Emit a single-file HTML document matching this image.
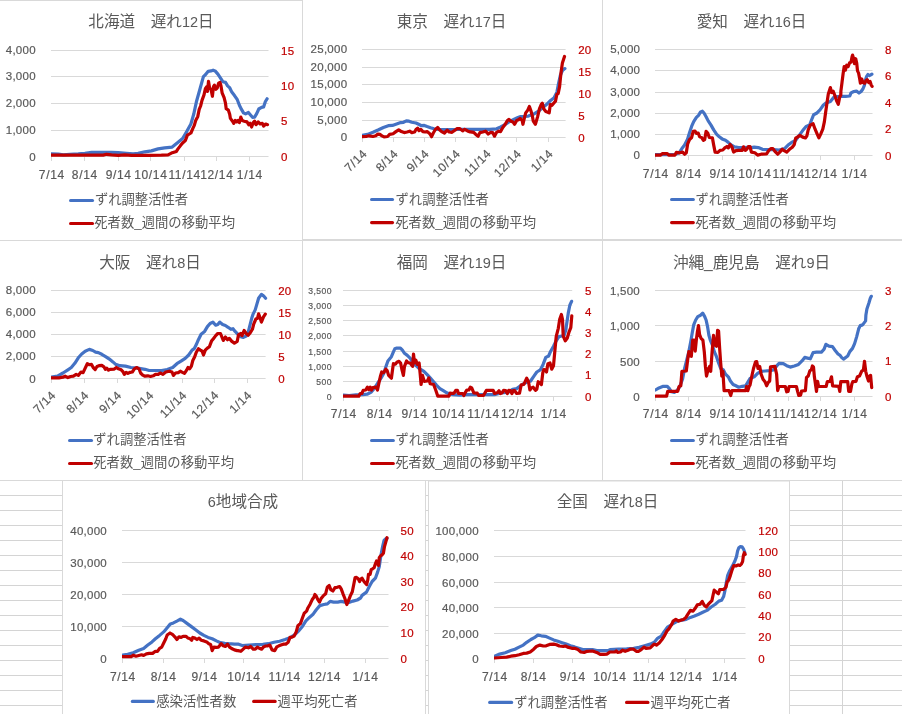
<!DOCTYPE html>
<html><head><meta charset="utf-8"><title>charts</title>
<style>
html,body{margin:0;padding:0;background:#fff;}
body{width:902px;height:714px;overflow:hidden;position:relative;font-family:"Liberation Sans",sans-serif;}
svg{position:absolute;left:0;top:0;display:block;will-change:transform;}
svg text{font-family:"Liberation Sans","Noto Sans CJK JP",sans-serif;}
</style></head><body>
<svg width="902" height="714" viewBox="0 0 902 714">
<path d="M0.00 480.50H902.00" stroke="#D4D4D4" stroke-width="1"/>
<path d="M0.00 495.50H902.00" stroke="#D4D4D4" stroke-width="1"/>
<path d="M0.00 510.50H902.00" stroke="#D4D4D4" stroke-width="1"/>
<path d="M0.00 525.50H902.00" stroke="#D4D4D4" stroke-width="1"/>
<path d="M0.00 540.50H902.00" stroke="#D4D4D4" stroke-width="1"/>
<path d="M0.00 555.50H902.00" stroke="#D4D4D4" stroke-width="1"/>
<path d="M0.00 570.50H902.00" stroke="#D4D4D4" stroke-width="1"/>
<path d="M0.00 585.50H902.00" stroke="#D4D4D4" stroke-width="1"/>
<path d="M0.00 600.50H902.00" stroke="#D4D4D4" stroke-width="1"/>
<path d="M0.00 615.50H902.00" stroke="#D4D4D4" stroke-width="1"/>
<path d="M0.00 630.50H902.00" stroke="#D4D4D4" stroke-width="1"/>
<path d="M0.00 645.50H902.00" stroke="#D4D4D4" stroke-width="1"/>
<path d="M0.00 660.50H902.00" stroke="#D4D4D4" stroke-width="1"/>
<path d="M0.00 675.50H902.00" stroke="#D4D4D4" stroke-width="1"/>
<path d="M0.00 690.50H902.00" stroke="#D4D4D4" stroke-width="1"/>
<path d="M0.00 705.50H902.00" stroke="#D4D4D4" stroke-width="1"/>
<path d="M842.50 480.00V714.00" stroke="#D4D4D4" stroke-width="1"/>
<rect x="0" y="0" width="902" height="480.5" fill="#fff"/>
<rect x="62" y="480" width="364" height="234" fill="#fff"/>
<rect x="428" y="480" width="362" height="234" fill="#fff"/>
<path d="M0.00 0.50H302.50" stroke="#D9D9D9" stroke-width="1"/>
<path d="M302.50 0.00V480.00" stroke="#D9D9D9" stroke-width="1"/>
<path d="M602.50 0.00V480.00" stroke="#D9D9D9" stroke-width="1"/>
<path d="M0.00 240.50H302.00" stroke="#D9D9D9" stroke-width="1"/>
<path d="M303.00 240.00H902.00" stroke="#D9D9D9" stroke-width="2"/>
<path d="M0.00 480.50H902.00" stroke="#D9D9D9" stroke-width="1"/>
<path d="M428.00 481.00H790.00" stroke="#D9D9D9" stroke-width="1"/>
<path d="M62.50 480.00V714.00" stroke="#D9D9D9" stroke-width="1"/>
<path d="M425.50 480.00V714.00" stroke="#D9D9D9" stroke-width="1"/>
<path d="M428.50 480.00V714.00" stroke="#D9D9D9" stroke-width="1"/>
<path d="M789.50 480.00V714.00" stroke="#D9D9D9" stroke-width="1"/>
<path d="M51.00 50.50H268.50" stroke="#D9D9D9" stroke-width="1"/>
<path d="M51.00 76.50H268.50" stroke="#D9D9D9" stroke-width="1"/>
<path d="M51.00 103.50H268.50" stroke="#D9D9D9" stroke-width="1"/>
<path d="M51.00 130.50H268.50" stroke="#D9D9D9" stroke-width="1"/>
<path d="M51.00 156.50H268.50" stroke="#D9D9D9" stroke-width="1"/>
<path d="M51.50 156.00V161.00" stroke="#D9D9D9" stroke-width="1"/>
<path d="M84.50 156.00V161.00" stroke="#D9D9D9" stroke-width="1"/>
<path d="M118.50 156.00V161.00" stroke="#D9D9D9" stroke-width="1"/>
<path d="M150.50 156.00V161.00" stroke="#D9D9D9" stroke-width="1"/>
<path d="M184.50 156.00V161.00" stroke="#D9D9D9" stroke-width="1"/>
<path d="M216.50 156.00V161.00" stroke="#D9D9D9" stroke-width="1"/>
<path d="M249.50 156.00V161.00" stroke="#D9D9D9" stroke-width="1"/>
<text x="35.80" y="53.72" font-size="11.5" text-anchor="end" fill="#595959" stroke="#595959" stroke-width="0.2" letter-spacing="0.25">4,000</text>
<text x="35.80" y="80.42" font-size="11.5" text-anchor="end" fill="#595959" stroke="#595959" stroke-width="0.2" letter-spacing="0.25">3,000</text>
<text x="35.80" y="107.22" font-size="11.5" text-anchor="end" fill="#595959" stroke="#595959" stroke-width="0.2" letter-spacing="0.25">2,000</text>
<text x="35.80" y="133.92" font-size="11.5" text-anchor="end" fill="#595959" stroke="#595959" stroke-width="0.2" letter-spacing="0.25">1,000</text>
<text x="35.80" y="160.82" font-size="11.5" text-anchor="end" fill="#595959" stroke="#595959" stroke-width="0.2" letter-spacing="0.25">0</text>
<text x="281.00" y="54.62" font-size="11.5" text-anchor="start" fill="#C00000" stroke="#C00000" stroke-width="0.2" letter-spacing="0.25">15</text>
<text x="281.00" y="89.95" font-size="11.5" text-anchor="start" fill="#C00000" stroke="#C00000" stroke-width="0.2" letter-spacing="0.25">10</text>
<text x="281.00" y="125.28" font-size="11.5" text-anchor="start" fill="#C00000" stroke="#C00000" stroke-width="0.2" letter-spacing="0.25">5</text>
<text x="281.00" y="160.62" font-size="11.5" text-anchor="start" fill="#C00000" stroke="#C00000" stroke-width="0.2" letter-spacing="0.25">0</text>
<text x="51.83" y="178.60" font-size="12" text-anchor="middle" fill="#595959" stroke="#595959" stroke-width="0.2" letter-spacing="0.65">7/14</text>
<text x="84.83" y="178.60" font-size="12" text-anchor="middle" fill="#595959" stroke="#595959" stroke-width="0.2" letter-spacing="0.65">8/14</text>
<text x="118.73" y="178.60" font-size="12" text-anchor="middle" fill="#595959" stroke="#595959" stroke-width="0.2" letter-spacing="0.65">9/14</text>
<text x="150.82" y="178.60" font-size="12" text-anchor="middle" fill="#595959" stroke="#595959" stroke-width="0.2" letter-spacing="0.65">10/14</text>
<text x="184.62" y="178.60" font-size="12" text-anchor="middle" fill="#595959" stroke="#595959" stroke-width="0.2" letter-spacing="0.65">11/14</text>
<text x="216.82" y="178.60" font-size="12" text-anchor="middle" fill="#595959" stroke="#595959" stroke-width="0.2" letter-spacing="0.65">12/14</text>
<text x="249.82" y="178.60" font-size="12" text-anchor="middle" fill="#595959" stroke="#595959" stroke-width="0.2" letter-spacing="0.65">1/14</text>
<clipPath id="cp1"><rect x="51" y="20.5" width="237.5" height="146"/></clipPath><g clip-path="url(#cp1)">
<path d="M51.5 153.9L58.3 154.1L63.3 154.8L69.9 154.4L78.3 153.9L84.9 153.3L91.6 152.4L101.5 152.4L111.5 152.3L118.2 152.6L126.5 153.3L133.1 153.9L138.1 153.4L144.8 151.8L151.4 150.9L158.1 148.9L164.7 147.8L172.2 147.1L178.4 142.0L182.6 138.5L186.7 131.6L190.9 124.0L193.7 114.3L196.4 101.8L199.9 89.3L203.4 76.6L205.4 74.8L208.2 71.3L211.0 70.9L213.1 70.2L215.1 70.9L217.9 74.1L220.7 78.3L222.8 81.7L225.5 82.4L227.6 85.9L229.7 87.7L231.8 92.1L234.5 95.6L237.3 99.7L239.4 105.3L241.5 109.4L243.5 112.9L245.6 113.9L248.4 112.5L250.5 115.0L252.5 117.3L254.6 117.1L256.7 113.6L258.8 109.0L261.6 107.4L263.6 106.9L265.3 101.8L267.1 98.8" fill="none" stroke="#4472C4" stroke-width="3.2" stroke-linejoin="round" stroke-linecap="round"/>
<path d="M51.5 155.1L103.2 155.1L106.5 154.3L111.5 154.8L118.2 155.3L124.8 154.9L131.5 155.3L148.1 155.3L161.4 155.1L168.1 154.8L171.4 153.1L176.4 151.4L178.0 148.9L180.5 145.6L182.6 143.0L185.3 140.6L187.4 135.1L190.9 133.0L193.0 128.1L194.3 125.4L195.7 120.5L197.8 116.4L199.2 109.4L200.6 106.0L202.0 100.4L204.0 94.9L205.4 88.7L206.8 86.6L207.5 91.4L208.5 81.3L209.6 88.0L211.0 89.3L212.4 96.3L213.5 86.6L214.4 85.2L215.8 89.3L217.2 88.0L218.6 83.1L220.0 82.4L221.0 85.9L222.1 92.8L224.1 97.7L225.5 103.2L226.2 108.7L228.3 110.1L229.7 114.3L230.4 118.4L232.5 121.2L233.8 123.3L235.2 120.5L236.6 121.9L238.0 120.5L239.4 122.6L240.8 117.1L242.2 120.5L244.2 121.2L247.0 121.9L248.7 124.7L250.1 123.3L251.6 127.0L253.2 122.6L254.6 121.2L256.0 124.7L258.1 121.9L260.2 124.0L262.3 123.3L263.6 126.1L265.7 124.0L267.5 124.7" fill="none" stroke="#C00000" stroke-width="3.2" stroke-linejoin="round" stroke-linecap="round"/>
</g>
<g fill="#595959"><text x="88.34" y="27.30" font-size="15.6">北海道</text><text x="150.74" y="27.30" font-size="15.6">遅れ</text><text x="181.94" y="27.30" font-size="14.50">1</text><text x="190.00" y="27.30" font-size="14.50">2</text><text x="198.06" y="27.30" font-size="15.6">日</text></g>
<path d="M70.55 200.45H92.55" stroke="#4472C4" stroke-width="3.1" stroke-linecap="round"/>
<g fill="#595959"><text x="94.90" y="204.00" font-size="13.33">ずれ調整活性者</text></g>
<path d="M70.55 223.50H92.55" stroke="#C00000" stroke-width="3.1" stroke-linecap="round"/>
<g fill="#595959"><text x="94.30" y="227.00" font-size="13.33">死者数_週間の移動平均</text></g>
<path d="M362.00 49.50H565.60" stroke="#D9D9D9" stroke-width="1"/>
<path d="M362.00 67.50H565.60" stroke="#D9D9D9" stroke-width="1"/>
<path d="M362.00 84.50H565.60" stroke="#D9D9D9" stroke-width="1"/>
<path d="M362.00 102.50H565.60" stroke="#D9D9D9" stroke-width="1"/>
<path d="M362.00 120.50H565.60" stroke="#D9D9D9" stroke-width="1"/>
<path d="M362.00 137.50H565.60" stroke="#D9D9D9" stroke-width="1"/>
<path d="M362.50 137.00V142.00" stroke="#D9D9D9" stroke-width="1"/>
<path d="M393.50 137.00V142.00" stroke="#D9D9D9" stroke-width="1"/>
<path d="M424.50 137.00V142.00" stroke="#D9D9D9" stroke-width="1"/>
<path d="M455.50 137.00V142.00" stroke="#D9D9D9" stroke-width="1"/>
<path d="M486.50 137.00V142.00" stroke="#D9D9D9" stroke-width="1"/>
<path d="M516.50 137.00V142.00" stroke="#D9D9D9" stroke-width="1"/>
<path d="M548.50 137.00V142.00" stroke="#D9D9D9" stroke-width="1"/>
<text x="347.30" y="53.22" font-size="11.5" text-anchor="end" fill="#595959" stroke="#595959" stroke-width="0.2" letter-spacing="0.25">25,000</text>
<text x="347.30" y="71.22" font-size="11.5" text-anchor="end" fill="#595959" stroke="#595959" stroke-width="0.2" letter-spacing="0.25">20,000</text>
<text x="347.30" y="88.22" font-size="11.5" text-anchor="end" fill="#595959" stroke="#595959" stroke-width="0.2" letter-spacing="0.25">15,000</text>
<text x="347.30" y="106.22" font-size="11.5" text-anchor="end" fill="#595959" stroke="#595959" stroke-width="0.2" letter-spacing="0.25">10,000</text>
<text x="347.30" y="124.22" font-size="11.5" text-anchor="end" fill="#595959" stroke="#595959" stroke-width="0.2" letter-spacing="0.25">5,000</text>
<text x="347.30" y="141.22" font-size="11.5" text-anchor="end" fill="#595959" stroke="#595959" stroke-width="0.2" letter-spacing="0.25">0</text>
<text x="578.20" y="53.62" font-size="11.5" text-anchor="start" fill="#C00000" stroke="#C00000" stroke-width="0.2" letter-spacing="0.25">20</text>
<text x="578.20" y="75.62" font-size="11.5" text-anchor="start" fill="#C00000" stroke="#C00000" stroke-width="0.2" letter-spacing="0.25">15</text>
<text x="578.20" y="97.62" font-size="11.5" text-anchor="start" fill="#C00000" stroke="#C00000" stroke-width="0.2" letter-spacing="0.25">10</text>
<text x="578.20" y="119.62" font-size="11.5" text-anchor="start" fill="#C00000" stroke="#C00000" stroke-width="0.2" letter-spacing="0.25">5</text>
<text x="578.20" y="141.62" font-size="11.5" text-anchor="start" fill="#C00000" stroke="#C00000" stroke-width="0.2" letter-spacing="0.25">0</text>
<text x="367.90" y="154.20" font-size="12" text-anchor="end" fill="#595959" stroke="#595959" stroke-width="0.2" letter-spacing="0.65" transform="rotate(-45 367.90 154.20)">7/14</text>
<text x="399.00" y="154.20" font-size="12" text-anchor="end" fill="#595959" stroke="#595959" stroke-width="0.2" letter-spacing="0.65" transform="rotate(-45 399.00 154.20)">8/14</text>
<text x="429.90" y="154.20" font-size="12" text-anchor="end" fill="#595959" stroke="#595959" stroke-width="0.2" letter-spacing="0.65" transform="rotate(-45 429.90 154.20)">9/14</text>
<text x="461.10" y="154.20" font-size="12" text-anchor="end" fill="#595959" stroke="#595959" stroke-width="0.2" letter-spacing="0.65" transform="rotate(-45 461.10 154.20)">10/14</text>
<text x="492.00" y="154.20" font-size="12" text-anchor="end" fill="#595959" stroke="#595959" stroke-width="0.2" letter-spacing="0.65" transform="rotate(-45 492.00 154.20)">11/14</text>
<text x="522.20" y="154.20" font-size="12" text-anchor="end" fill="#595959" stroke="#595959" stroke-width="0.2" letter-spacing="0.65" transform="rotate(-45 522.20 154.20)">12/14</text>
<text x="554.00" y="154.20" font-size="12" text-anchor="end" fill="#595959" stroke="#595959" stroke-width="0.2" letter-spacing="0.65" transform="rotate(-45 554.00 154.20)">1/14</text>
<clipPath id="cp2"><rect x="362" y="19.5" width="223.6" height="128"/></clipPath><g clip-path="url(#cp2)">
<path d="M362.3 135.4L367.5 134.4L373.0 132.3L378.6 129.8L383.4 127.5L388.3 125.7L392.4 125.4L396.6 124.0L400.7 122.6L403.5 122.3L406.3 120.9L409.0 121.2L411.8 122.2L416.0 123.0L418.7 124.3L421.5 125.7L424.3 125.4L427.1 126.5L430.5 127.7L434.0 128.8L438.1 129.3L445.1 129.5L452.0 129.5L455.0 129.5L463.3 129.3L475.8 129.3L489.6 129.3L496.6 128.8L500.7 127.0L504.9 124.7L509.0 121.9L513.2 119.8L517.4 117.8L520.1 116.6L524.3 116.4L528.4 116.1L534.0 113.9L538.1 111.5L542.3 108.1L546.5 104.6L550.6 100.4L554.1 97.7L556.9 92.1L558.2 85.2L560.3 75.5L562.4 70.6L564.9 68.6" fill="none" stroke="#4472C4" stroke-width="3.2" stroke-linejoin="round" stroke-linecap="round"/>
<path d="M362.3 136.7L366.1 136.5L368.9 135.8L373.0 136.5L375.8 135.8L377.9 134.1L379.9 134.4L382.0 135.8L384.1 136.9L387.6 136.5L389.6 134.4L393.1 133.7L395.9 131.6L398.7 129.8L401.4 131.6L404.2 132.6L407.0 132.0L409.7 131.2L411.8 132.6L414.6 132.0L416.0 129.5L417.6 128.1L419.0 130.6L420.8 129.3L422.9 131.6L425.0 132.0L427.1 131.6L429.8 133.7L431.6 136.7L433.3 133.0L435.4 129.5L437.7 127.5L439.5 129.8L441.6 131.6L444.4 133.0L447.2 130.2L449.2 132.0L452.0 132.3L454.8 130.2L455.0 130.2L457.1 128.6L459.9 128.6L462.6 130.9L464.7 129.3L467.5 130.9L470.2 131.9L473.7 132.3L475.8 134.4L478.1 136.2L479.9 132.6L482.7 132.0L485.5 131.2L488.3 134.0L490.8 132.3L492.7 132.6L494.5 136.2L496.6 132.3L498.7 131.2L500.5 131.6L502.8 127.5L504.9 124.7L507.4 120.5L509.0 119.4L511.1 121.2L512.9 121.9L514.6 124.3L516.7 120.5L518.5 119.8L520.1 118.4L522.2 120.5L522.9 124.3L524.3 118.4L525.7 112.9L527.8 110.1L529.4 106.4L530.9 110.8L532.3 115.7L533.3 121.2L535.4 124.3L537.5 117.1L539.5 108.7L541.2 104.6L542.3 103.2L543.7 108.7L545.8 111.5L547.8 112.2L549.2 112.9L550.3 104.6L552.0 105.3L553.7 103.2L555.5 101.1L556.9 94.2L558.2 93.5L559.6 86.6L561.0 72.7L562.4 63.0L564.5 56.4" fill="none" stroke="#C00000" stroke-width="3.2" stroke-linejoin="round" stroke-linecap="round"/>
</g>
<g fill="#595959"><text x="396.64" y="27.30" font-size="15.6">東京</text><text x="443.44" y="27.30" font-size="15.6">遅れ</text><text x="474.64" y="27.30" font-size="14.50">1</text><text x="482.70" y="27.30" font-size="14.50">7</text><text x="490.76" y="27.30" font-size="15.6">日</text></g>
<path d="M371.55 199.50H392.55" stroke="#4472C4" stroke-width="3.1" stroke-linecap="round"/>
<g fill="#595959"><text x="395.50" y="204.00" font-size="13.33">ずれ調整活性者</text></g>
<path d="M371.55 222.60H392.55" stroke="#C00000" stroke-width="3.1" stroke-linecap="round"/>
<g fill="#595959"><text x="395.30" y="227.00" font-size="13.33">死者数_週間の移動平均</text></g>
<path d="M655.00 49.50H872.50" stroke="#D9D9D9" stroke-width="1"/>
<path d="M655.00 70.50H872.50" stroke="#D9D9D9" stroke-width="1"/>
<path d="M655.00 92.50H872.50" stroke="#D9D9D9" stroke-width="1"/>
<path d="M655.00 113.50H872.50" stroke="#D9D9D9" stroke-width="1"/>
<path d="M655.00 134.50H872.50" stroke="#D9D9D9" stroke-width="1"/>
<path d="M655.00 155.50H872.50" stroke="#D9D9D9" stroke-width="1"/>
<path d="M655.50 155.00V160.00" stroke="#D9D9D9" stroke-width="1"/>
<path d="M688.50 155.00V160.00" stroke="#D9D9D9" stroke-width="1"/>
<path d="M722.50 155.00V160.00" stroke="#D9D9D9" stroke-width="1"/>
<path d="M754.50 155.00V160.00" stroke="#D9D9D9" stroke-width="1"/>
<path d="M788.50 155.00V160.00" stroke="#D9D9D9" stroke-width="1"/>
<path d="M820.50 155.00V160.00" stroke="#D9D9D9" stroke-width="1"/>
<path d="M854.50 155.00V160.00" stroke="#D9D9D9" stroke-width="1"/>
<text x="640.20" y="53.22" font-size="11.5" text-anchor="end" fill="#595959" stroke="#595959" stroke-width="0.2" letter-spacing="0.25">5,000</text>
<text x="640.20" y="74.22" font-size="11.5" text-anchor="end" fill="#595959" stroke="#595959" stroke-width="0.2" letter-spacing="0.25">4,000</text>
<text x="640.20" y="96.22" font-size="11.5" text-anchor="end" fill="#595959" stroke="#595959" stroke-width="0.2" letter-spacing="0.25">3,000</text>
<text x="640.20" y="117.22" font-size="11.5" text-anchor="end" fill="#595959" stroke="#595959" stroke-width="0.2" letter-spacing="0.25">2,000</text>
<text x="640.20" y="138.22" font-size="11.5" text-anchor="end" fill="#595959" stroke="#595959" stroke-width="0.2" letter-spacing="0.25">1,000</text>
<text x="640.20" y="159.22" font-size="11.5" text-anchor="end" fill="#595959" stroke="#595959" stroke-width="0.2" letter-spacing="0.25">0</text>
<text x="885.00" y="53.62" font-size="11.5" text-anchor="start" fill="#C00000" stroke="#C00000" stroke-width="0.2" letter-spacing="0.25">8</text>
<text x="885.00" y="80.12" font-size="11.5" text-anchor="start" fill="#C00000" stroke="#C00000" stroke-width="0.2" letter-spacing="0.25">6</text>
<text x="885.00" y="106.62" font-size="11.5" text-anchor="start" fill="#C00000" stroke="#C00000" stroke-width="0.2" letter-spacing="0.25">4</text>
<text x="885.00" y="133.12" font-size="11.5" text-anchor="start" fill="#C00000" stroke="#C00000" stroke-width="0.2" letter-spacing="0.25">2</text>
<text x="885.00" y="159.62" font-size="11.5" text-anchor="start" fill="#C00000" stroke="#C00000" stroke-width="0.2" letter-spacing="0.25">0</text>
<text x="655.83" y="178.00" font-size="12" text-anchor="middle" fill="#595959" stroke="#595959" stroke-width="0.2" letter-spacing="0.65">7/14</text>
<text x="688.83" y="178.00" font-size="12" text-anchor="middle" fill="#595959" stroke="#595959" stroke-width="0.2" letter-spacing="0.65">8/14</text>
<text x="722.53" y="178.00" font-size="12" text-anchor="middle" fill="#595959" stroke="#595959" stroke-width="0.2" letter-spacing="0.65">9/14</text>
<text x="754.83" y="178.00" font-size="12" text-anchor="middle" fill="#595959" stroke="#595959" stroke-width="0.2" letter-spacing="0.65">10/14</text>
<text x="788.73" y="178.00" font-size="12" text-anchor="middle" fill="#595959" stroke="#595959" stroke-width="0.2" letter-spacing="0.65">11/14</text>
<text x="820.93" y="178.00" font-size="12" text-anchor="middle" fill="#595959" stroke="#595959" stroke-width="0.2" letter-spacing="0.65">12/14</text>
<text x="854.73" y="178.00" font-size="12" text-anchor="middle" fill="#595959" stroke="#595959" stroke-width="0.2" letter-spacing="0.65">1/14</text>
<clipPath id="cp3"><rect x="655" y="19.5" width="237.5" height="146"/></clipPath><g clip-path="url(#cp3)">
<path d="M655.5 154.6L663.9 154.6L674.9 154.6L679.1 152.8L681.9 148.6L684.6 145.1L687.4 139.6L689.5 132.7L691.6 126.4L693.7 121.6L696.4 117.4L698.5 115.4L700.6 111.9L702.4 111.2L704.0 113.0L706.1 116.7L708.2 120.9L711.0 125.1L713.7 129.9L716.5 134.1L719.3 136.8L722.1 138.9L725.5 140.3L728.3 142.4L731.1 144.9L734.5 146.8L738.7 147.5L744.2 147.5L749.8 147.2L750.0 147.9L754.2 147.2L758.3 147.6L762.5 149.3L768.0 149.7L773.6 149.7L779.1 150.0L784.6 148.6L788.1 145.1L791.6 142.4L795.7 140.3L799.2 135.4L802.7 130.6L806.1 126.4L809.6 125.1L811.7 119.5L813.7 114.7L816.5 113.3L820.0 109.8L823.4 105.0L826.2 102.9L830.4 101.5L833.8 97.3L837.3 96.6L841.5 96.4L845.6 96.4L849.8 96.0L851.0 92.9L853.9 91.5L856.4 91.1L859.0 93.1L861.1 91.5L862.9 89.0L864.4 85.4L865.4 80.3L866.5 76.7L868.0 74.5L869.4 75.6L870.8 74.9L871.9 74.2" fill="none" stroke="#4472C4" stroke-width="3.2" stroke-linejoin="round" stroke-linecap="round"/>
<path d="M655.5 155.1L660.4 155.1L662.5 153.7L667.3 153.7L668.7 155.1L674.9 155.1L676.3 152.4L679.8 152.8L682.6 152.1L684.6 154.2L686.3 152.8L687.7 143.8L689.5 139.6L691.6 137.5L693.2 131.3L695.0 131.0L696.4 133.4L698.2 133.0L699.6 136.8L701.6 137.5L703.4 140.3L704.7 139.6L706.1 131.3L707.9 133.4L709.3 137.5L712.4 137.9L713.7 145.1L715.1 152.1L717.9 152.4L720.0 150.4L722.8 150.0L724.8 147.9L726.9 146.5L728.3 147.9L730.1 144.5L731.8 146.5L733.6 152.1L735.9 150.7L738.7 150.4L742.2 150.4L743.5 146.8L745.3 150.4L747.0 149.0L748.4 146.5L750.0 146.5L751.4 152.1L754.9 152.8L757.6 155.1L761.1 154.2L766.6 153.9L768.7 150.7L770.8 148.6L772.9 148.6L774.9 151.4L777.7 154.2L779.8 152.1L782.2 149.3L784.0 150.7L786.7 152.1L789.5 149.3L792.3 147.2L794.3 144.5L795.7 138.2L797.8 136.8L799.9 135.4L802.7 137.1L805.4 137.9L806.8 136.1L808.2 129.9L810.3 125.1L813.1 123.7L815.1 129.2L817.2 134.1L818.9 137.9L820.7 134.1L822.8 129.2L824.4 121.6L825.5 113.3L826.9 103.6L828.3 93.9L830.4 87.6L831.5 92.5L833.1 91.1L834.8 95.3L836.6 100.8L838.3 104.3L839.8 96.6L840.8 95.3L840.9 91.1L842.0 82.5L843.1 73.8L844.2 66.6L845.3 70.2L846.7 65.2L848.1 66.6L849.6 62.7L851.0 62.3L852.1 56.5L852.6 55.1L853.6 58.7L854.5 63.7L855.7 58.7L856.7 63.0L857.5 70.9L858.6 73.1L859.7 78.9L860.4 83.2L861.8 78.9L862.9 82.5L864.7 83.2L865.8 81.0L867.2 79.6L868.7 82.5L870.1 81.4L871.2 85.0L872.1 86.4" fill="none" stroke="#C00000" stroke-width="3.2" stroke-linejoin="round" stroke-linecap="round"/>
</g>
<g fill="#595959"><text x="696.64" y="27.30" font-size="15.6">愛知</text><text x="743.44" y="27.30" font-size="15.6">遅れ</text><text x="774.64" y="27.30" font-size="14.50">1</text><text x="782.70" y="27.30" font-size="14.50">6</text><text x="790.76" y="27.30" font-size="15.6">日</text></g>
<path d="M671.55 199.50H693.35" stroke="#4472C4" stroke-width="3.1" stroke-linecap="round"/>
<g fill="#595959"><text x="695.50" y="204.00" font-size="13.33">ずれ調整活性者</text></g>
<path d="M671.55 222.60H693.35" stroke="#C00000" stroke-width="3.1" stroke-linecap="round"/>
<g fill="#595959"><text x="695.30" y="227.00" font-size="13.33">死者数_週間の移動平均</text></g>
<path d="M51.00 290.50H265.60" stroke="#D9D9D9" stroke-width="1"/>
<path d="M51.00 312.50H265.60" stroke="#D9D9D9" stroke-width="1"/>
<path d="M51.00 334.50H265.60" stroke="#D9D9D9" stroke-width="1"/>
<path d="M51.00 356.50H265.60" stroke="#D9D9D9" stroke-width="1"/>
<path d="M51.00 378.50H265.60" stroke="#D9D9D9" stroke-width="1"/>
<path d="M51.50 378.00V383.00" stroke="#D9D9D9" stroke-width="1"/>
<path d="M84.50 378.00V383.00" stroke="#D9D9D9" stroke-width="1"/>
<path d="M117.50 378.00V383.00" stroke="#D9D9D9" stroke-width="1"/>
<path d="M149.50 378.00V383.00" stroke="#D9D9D9" stroke-width="1"/>
<path d="M182.50 378.00V383.00" stroke="#D9D9D9" stroke-width="1"/>
<path d="M214.50 378.00V383.00" stroke="#D9D9D9" stroke-width="1"/>
<path d="M247.50 378.00V383.00" stroke="#D9D9D9" stroke-width="1"/>
<text x="35.80" y="293.82" font-size="11.5" text-anchor="end" fill="#595959" stroke="#595959" stroke-width="0.2" letter-spacing="0.25">8,000</text>
<text x="35.80" y="316.02" font-size="11.5" text-anchor="end" fill="#595959" stroke="#595959" stroke-width="0.2" letter-spacing="0.25">6,000</text>
<text x="35.80" y="338.22" font-size="11.5" text-anchor="end" fill="#595959" stroke="#595959" stroke-width="0.2" letter-spacing="0.25">4,000</text>
<text x="35.80" y="360.42" font-size="11.5" text-anchor="end" fill="#595959" stroke="#595959" stroke-width="0.2" letter-spacing="0.25">2,000</text>
<text x="35.80" y="382.62" font-size="11.5" text-anchor="end" fill="#595959" stroke="#595959" stroke-width="0.2" letter-spacing="0.25">0</text>
<text x="278.20" y="294.62" font-size="11.5" text-anchor="start" fill="#C00000" stroke="#C00000" stroke-width="0.2" letter-spacing="0.25">20</text>
<text x="278.20" y="316.62" font-size="11.5" text-anchor="start" fill="#C00000" stroke="#C00000" stroke-width="0.2" letter-spacing="0.25">15</text>
<text x="278.20" y="338.62" font-size="11.5" text-anchor="start" fill="#C00000" stroke="#C00000" stroke-width="0.2" letter-spacing="0.25">10</text>
<text x="278.20" y="360.62" font-size="11.5" text-anchor="start" fill="#C00000" stroke="#C00000" stroke-width="0.2" letter-spacing="0.25">5</text>
<text x="278.20" y="382.62" font-size="11.5" text-anchor="start" fill="#C00000" stroke="#C00000" stroke-width="0.2" letter-spacing="0.25">0</text>
<text x="56.60" y="395.70" font-size="12" text-anchor="end" fill="#595959" stroke="#595959" stroke-width="0.2" letter-spacing="0.65" transform="rotate(-45 56.60 395.70)">7/14</text>
<text x="89.70" y="395.70" font-size="12" text-anchor="end" fill="#595959" stroke="#595959" stroke-width="0.2" letter-spacing="0.65" transform="rotate(-45 89.70 395.70)">8/14</text>
<text x="122.40" y="395.70" font-size="12" text-anchor="end" fill="#595959" stroke="#595959" stroke-width="0.2" letter-spacing="0.65" transform="rotate(-45 122.40 395.70)">9/14</text>
<text x="154.70" y="395.70" font-size="12" text-anchor="end" fill="#595959" stroke="#595959" stroke-width="0.2" letter-spacing="0.65" transform="rotate(-45 154.70 395.70)">10/14</text>
<text x="187.60" y="395.70" font-size="12" text-anchor="end" fill="#595959" stroke="#595959" stroke-width="0.2" letter-spacing="0.65" transform="rotate(-45 187.60 395.70)">11/14</text>
<text x="219.80" y="395.70" font-size="12" text-anchor="end" fill="#595959" stroke="#595959" stroke-width="0.2" letter-spacing="0.65" transform="rotate(-45 219.80 395.70)">12/14</text>
<text x="252.70" y="395.70" font-size="12" text-anchor="end" fill="#595959" stroke="#595959" stroke-width="0.2" letter-spacing="0.65" transform="rotate(-45 252.70 395.70)">1/14</text>
<clipPath id="cp4"><rect x="51" y="260.5" width="234.6" height="128"/></clipPath><g clip-path="url(#cp4)">
<path d="M51.4 377.2L57.5 376.2L63.0 373.0L67.9 369.8L71.3 367.5L74.8 363.3L78.3 357.8L81.7 354.0L85.2 351.2L89.3 349.4L92.8 350.5L95.6 352.2L98.4 352.6L101.8 354.3L106.0 356.8L109.4 359.1L112.9 361.9L115.7 364.4L119.8 365.7L125.4 366.1L130.9 367.5L136.5 367.9L142.0 368.8L145.0 369.3L149.2 370.5L156.1 370.5L161.6 370.6L167.2 369.5L172.7 367.5L176.9 363.7L181.0 361.2L185.2 358.4L188.7 355.0L192.1 350.1L194.2 348.7L196.3 344.6L198.4 339.7L201.1 334.2L204.6 331.4L207.4 326.6L210.1 323.5L212.9 322.1L215.7 325.2L217.8 324.5L219.8 322.1L222.6 324.5L225.4 325.5L228.1 327.3L230.9 329.3L233.0 328.7L235.1 331.4L237.8 334.2L240.6 336.6L243.4 337.4L246.2 336.0L248.2 332.1L249.6 326.6L251.7 318.3L253.1 314.1L255.2 309.9L256.6 305.1L258.6 298.2L261.4 294.4L263.5 295.8L265.6 298.2" fill="none" stroke="#4472C4" stroke-width="3.2" stroke-linejoin="round" stroke-linecap="round"/>
<path d="M51.4 377.8L58.9 377.8L63.0 377.2L65.1 376.2L67.9 377.6L70.6 376.5L73.4 376.2L76.2 374.4L78.3 375.4L81.0 372.0L83.1 372.6L85.2 368.1L87.3 363.7L89.3 364.7L91.4 364.3L93.2 367.5L95.2 369.5L97.0 366.5L99.0 365.7L101.8 365.4L103.9 366.8L105.3 369.3L106.7 368.1L108.5 370.2L110.1 369.3L114.3 369.1L116.4 367.5L118.4 368.8L121.2 369.8L122.9 371.6L124.3 374.4L126.1 372.3L127.9 373.4L130.2 372.3L132.3 372.0L134.4 368.8L136.5 367.5L139.0 368.8L140.6 373.0L142.7 375.1L145.0 376.2L147.8 375.8L150.5 376.5L153.3 375.8L155.4 374.4L158.2 374.4L160.2 373.0L163.0 374.4L165.8 372.0L169.3 371.2L172.0 372.0L173.4 375.4L175.5 373.0L178.3 372.6L180.3 371.2L182.4 372.3L184.5 373.4L186.6 370.2L188.0 367.5L189.6 368.8L191.4 366.1L192.8 360.5L194.6 357.1L196.3 352.2L198.4 348.7L200.4 350.1L202.1 351.2L203.5 355.0L205.3 350.1L207.4 348.1L209.4 346.7L211.5 341.1L213.6 338.4L215.7 335.6L217.8 333.5L220.5 333.5L221.9 337.0L223.3 340.4L225.4 337.0L227.5 339.7L229.3 338.4L231.6 341.1L234.4 343.2L237.2 341.5L238.5 334.9L240.6 333.5L242.0 335.6L244.1 330.5L246.2 333.5L248.2 335.2L250.3 332.8L252.4 329.3L253.8 323.8L255.9 319.0L257.5 318.3L258.6 313.8L260.0 317.6L261.4 322.1L263.5 316.9L265.3 314.1" fill="none" stroke="#C00000" stroke-width="3.2" stroke-linejoin="round" stroke-linecap="round"/>
</g>
<g fill="#595959"><text x="99.17" y="267.80" font-size="15.6">大阪</text><text x="145.97" y="267.80" font-size="15.6">遅れ</text><text x="177.17" y="267.80" font-size="14.50">8</text><text x="185.23" y="267.80" font-size="15.6">日</text></g>
<path d="M69.55 440.45H91.55" stroke="#4472C4" stroke-width="3.1" stroke-linecap="round"/>
<g fill="#595959"><text x="93.30" y="444.00" font-size="13.33">ずれ調整活性者</text></g>
<path d="M69.55 463.50H91.55" stroke="#C00000" stroke-width="3.1" stroke-linecap="round"/>
<g fill="#595959"><text x="93.30" y="467.00" font-size="13.33">死者数_週間の移動平均</text></g>
<path d="M343.00 290.50H572.20" stroke="#D9D9D9" stroke-width="1"/>
<path d="M343.00 305.50H572.20" stroke="#D9D9D9" stroke-width="1"/>
<path d="M343.00 320.50H572.20" stroke="#D9D9D9" stroke-width="1"/>
<path d="M343.00 335.50H572.20" stroke="#D9D9D9" stroke-width="1"/>
<path d="M343.00 351.50H572.20" stroke="#D9D9D9" stroke-width="1"/>
<path d="M343.00 366.50H572.20" stroke="#D9D9D9" stroke-width="1"/>
<path d="M343.00 381.50H572.20" stroke="#D9D9D9" stroke-width="1"/>
<path d="M343.00 396.50H572.20" stroke="#D9D9D9" stroke-width="1"/>
<path d="M343.50 396.00V401.00" stroke="#D9D9D9" stroke-width="1"/>
<path d="M379.50 396.00V401.00" stroke="#D9D9D9" stroke-width="1"/>
<path d="M414.50 396.00V401.00" stroke="#D9D9D9" stroke-width="1"/>
<path d="M448.50 396.00V401.00" stroke="#D9D9D9" stroke-width="1"/>
<path d="M483.50 396.00V401.00" stroke="#D9D9D9" stroke-width="1"/>
<path d="M517.50 396.00V401.00" stroke="#D9D9D9" stroke-width="1"/>
<path d="M553.50 396.00V401.00" stroke="#D9D9D9" stroke-width="1"/>
<text x="332.00" y="293.58" font-size="8.6" text-anchor="end" fill="#595959" stroke="#595959" stroke-width="0.2" letter-spacing="0.45">3,500</text>
<text x="332.00" y="308.58" font-size="8.6" text-anchor="end" fill="#595959" stroke="#595959" stroke-width="0.2" letter-spacing="0.45">3,000</text>
<text x="332.00" y="323.58" font-size="8.6" text-anchor="end" fill="#595959" stroke="#595959" stroke-width="0.2" letter-spacing="0.45">2,500</text>
<text x="332.00" y="338.58" font-size="8.6" text-anchor="end" fill="#595959" stroke="#595959" stroke-width="0.2" letter-spacing="0.45">2,000</text>
<text x="332.00" y="354.58" font-size="8.6" text-anchor="end" fill="#595959" stroke="#595959" stroke-width="0.2" letter-spacing="0.45">1,500</text>
<text x="332.00" y="369.58" font-size="8.6" text-anchor="end" fill="#595959" stroke="#595959" stroke-width="0.2" letter-spacing="0.45">1,000</text>
<text x="332.00" y="384.58" font-size="8.6" text-anchor="end" fill="#595959" stroke="#595959" stroke-width="0.2" letter-spacing="0.45">500</text>
<text x="332.00" y="399.58" font-size="8.6" text-anchor="end" fill="#595959" stroke="#595959" stroke-width="0.2" letter-spacing="0.45">0</text>
<text x="585.00" y="294.62" font-size="11.5" text-anchor="start" fill="#C00000" stroke="#C00000" stroke-width="0.2" letter-spacing="0.25">5</text>
<text x="585.00" y="315.82" font-size="11.5" text-anchor="start" fill="#C00000" stroke="#C00000" stroke-width="0.2" letter-spacing="0.25">4</text>
<text x="585.00" y="337.02" font-size="11.5" text-anchor="start" fill="#C00000" stroke="#C00000" stroke-width="0.2" letter-spacing="0.25">3</text>
<text x="585.00" y="358.22" font-size="11.5" text-anchor="start" fill="#C00000" stroke="#C00000" stroke-width="0.2" letter-spacing="0.25">2</text>
<text x="585.00" y="379.42" font-size="11.5" text-anchor="start" fill="#C00000" stroke="#C00000" stroke-width="0.2" letter-spacing="0.25">1</text>
<text x="585.00" y="400.62" font-size="11.5" text-anchor="start" fill="#C00000" stroke="#C00000" stroke-width="0.2" letter-spacing="0.25">0</text>
<text x="343.82" y="418.00" font-size="12" text-anchor="middle" fill="#595959" stroke="#595959" stroke-width="0.2" letter-spacing="0.65">7/14</text>
<text x="379.62" y="418.00" font-size="12" text-anchor="middle" fill="#595959" stroke="#595959" stroke-width="0.2" letter-spacing="0.65">8/14</text>
<text x="414.52" y="418.00" font-size="12" text-anchor="middle" fill="#595959" stroke="#595959" stroke-width="0.2" letter-spacing="0.65">9/14</text>
<text x="448.72" y="418.00" font-size="12" text-anchor="middle" fill="#595959" stroke="#595959" stroke-width="0.2" letter-spacing="0.65">10/14</text>
<text x="483.52" y="418.00" font-size="12" text-anchor="middle" fill="#595959" stroke="#595959" stroke-width="0.2" letter-spacing="0.65">11/14</text>
<text x="517.53" y="418.00" font-size="12" text-anchor="middle" fill="#595959" stroke="#595959" stroke-width="0.2" letter-spacing="0.65">12/14</text>
<text x="553.83" y="418.00" font-size="12" text-anchor="middle" fill="#595959" stroke="#595959" stroke-width="0.2" letter-spacing="0.65">1/14</text>
<clipPath id="cp5"><rect x="343" y="260.5" width="249.2" height="146"/></clipPath><g clip-path="url(#cp5)">
<path d="M343.5 395.1L349.1 395.5L356.0 394.8L362.9 394.6L367.1 394.2L371.3 392.1L374.7 387.9L378.2 382.4L381.0 378.2L383.7 373.4L385.8 367.1L387.9 360.9L391.4 356.7L393.4 351.9L394.8 348.8L396.9 348.0L400.4 348.1L402.4 350.2L404.5 353.3L407.3 355.4L410.1 358.1L412.8 363.0L415.6 365.1L418.4 367.8L421.1 369.6L423.9 371.3L426.7 374.1L430.2 377.9L433.6 381.7L436.4 385.1L439.9 388.6L443.3 390.7L446.8 392.8L450.3 394.2L453.0 394.6L459.9 395.1L466.9 394.6L480.7 394.6L494.6 394.6L501.5 392.8L508.4 392.1L512.6 389.3L516.7 388.6L519.5 386.5L522.3 384.5L526.4 382.4L530.6 381.0L533.4 376.8L536.8 372.0L540.3 369.9L543.1 364.4L545.8 357.4L548.6 356.0L550.7 351.2L553.5 346.3L556.2 340.8L559.0 336.6L561.8 336.0L563.9 336.0L565.9 329.7L566.3 326.2L568.3 312.9L569.9 305.0L571.6 301.3" fill="none" stroke="#4472C4" stroke-width="3.2" stroke-linejoin="round" stroke-linecap="round"/>
<path d="M343.5 396.2L358.8 396.2L360.2 393.5L361.8 393.5L363.2 390.4L365.7 390.0L367.4 387.2L368.8 389.6L370.2 387.2L371.5 390.0L372.9 387.6L376.1 387.2L377.5 390.0L378.9 383.1L380.3 376.8L381.7 372.0L383.7 372.7L385.8 369.2L387.2 370.6L388.6 375.4L391.4 378.2L392.7 368.5L393.4 363.7L395.5 364.1L396.9 362.3L399.0 361.3L400.6 363.0L402.0 369.9L403.4 375.4L404.5 366.4L406.6 360.9L408.0 362.7L410.1 363.0L412.6 366.4L413.5 354.0L414.5 363.0L415.9 360.2L417.3 364.4L419.1 363.0L420.2 374.1L421.1 384.5L422.5 375.4L424.2 381.3L427.4 381.0L428.8 377.9L430.2 383.8L433.6 384.5L435.7 390.0L437.8 396.2L448.9 396.2L450.0 393.2L453.0 393.5L454.4 392.8L455.8 390.4L457.4 390.4L458.5 393.5L462.7 393.5L463.8 395.5L465.5 392.1L466.9 390.0L468.9 390.0L470.3 387.2L471.7 387.9L473.8 392.8L477.3 393.2L478.6 395.5L483.5 395.5L486.3 390.4L493.2 390.4L494.6 393.5L497.3 392.8L499.0 390.7L500.4 393.5L502.2 392.8L503.6 390.4L505.7 390.7L507.3 393.5L508.7 390.4L510.5 390.7L511.9 393.5L513.3 390.7L514.7 390.7L516.5 393.5L519.5 393.2L521.2 384.9L523.7 384.5L525.1 381.7L526.7 378.2L528.5 381.7L529.9 390.0L531.3 387.9L533.1 387.2L535.5 390.4L536.8 389.3L538.2 381.7L540.0 383.1L541.4 384.5L542.8 372.7L543.8 369.6L545.2 369.9L546.5 372.0L547.9 363.7L550.0 363.0L551.7 369.2L553.5 365.7L554.9 350.5L556.2 336.6L558.3 328.3L559.7 319.3L561.4 314.5L562.5 319.3L563.2 336.0L565.3 340.8L567.3 338.0L569.1 331.8L570.8 327.6L571.8 315.9" fill="none" stroke="#C00000" stroke-width="3.2" stroke-linejoin="round" stroke-linecap="round"/>
</g>
<g fill="#595959"><text x="396.64" y="267.80" font-size="15.6">福岡</text><text x="443.44" y="267.80" font-size="15.6">遅れ</text><text x="474.64" y="267.80" font-size="14.50">1</text><text x="482.70" y="267.80" font-size="14.50">9</text><text x="490.76" y="267.80" font-size="15.6">日</text></g>
<path d="M371.55 440.45H393.35" stroke="#4472C4" stroke-width="3.1" stroke-linecap="round"/>
<g fill="#595959"><text x="395.50" y="444.00" font-size="13.33">ずれ調整活性者</text></g>
<path d="M371.55 463.50H393.35" stroke="#C00000" stroke-width="3.1" stroke-linecap="round"/>
<g fill="#595959"><text x="395.30" y="467.00" font-size="13.33">死者数_週間の移動平均</text></g>
<path d="M655.00 290.50H872.50" stroke="#D9D9D9" stroke-width="1"/>
<path d="M655.00 325.50H872.50" stroke="#D9D9D9" stroke-width="1"/>
<path d="M655.00 361.50H872.50" stroke="#D9D9D9" stroke-width="1"/>
<path d="M655.00 396.50H872.50" stroke="#D9D9D9" stroke-width="1"/>
<path d="M655.50 396.00V401.00" stroke="#D9D9D9" stroke-width="1"/>
<path d="M688.50 396.00V401.00" stroke="#D9D9D9" stroke-width="1"/>
<path d="M722.50 396.00V401.00" stroke="#D9D9D9" stroke-width="1"/>
<path d="M754.50 396.00V401.00" stroke="#D9D9D9" stroke-width="1"/>
<path d="M788.50 396.00V401.00" stroke="#D9D9D9" stroke-width="1"/>
<path d="M820.50 396.00V401.00" stroke="#D9D9D9" stroke-width="1"/>
<path d="M854.50 396.00V401.00" stroke="#D9D9D9" stroke-width="1"/>
<text x="640.00" y="294.62" font-size="11.5" text-anchor="end" fill="#595959" stroke="#595959" stroke-width="0.2" letter-spacing="0.25">1,500</text>
<text x="640.00" y="329.62" font-size="11.5" text-anchor="end" fill="#595959" stroke="#595959" stroke-width="0.2" letter-spacing="0.25">1,000</text>
<text x="640.00" y="365.62" font-size="11.5" text-anchor="end" fill="#595959" stroke="#595959" stroke-width="0.2" letter-spacing="0.25">500</text>
<text x="640.00" y="400.62" font-size="11.5" text-anchor="end" fill="#595959" stroke="#595959" stroke-width="0.2" letter-spacing="0.25">0</text>
<text x="885.00" y="294.62" font-size="11.5" text-anchor="start" fill="#C00000" stroke="#C00000" stroke-width="0.2" letter-spacing="0.25">3</text>
<text x="885.00" y="329.95" font-size="11.5" text-anchor="start" fill="#C00000" stroke="#C00000" stroke-width="0.2" letter-spacing="0.25">2</text>
<text x="885.00" y="365.28" font-size="11.5" text-anchor="start" fill="#C00000" stroke="#C00000" stroke-width="0.2" letter-spacing="0.25">1</text>
<text x="885.00" y="400.62" font-size="11.5" text-anchor="start" fill="#C00000" stroke="#C00000" stroke-width="0.2" letter-spacing="0.25">0</text>
<text x="655.83" y="418.00" font-size="12" text-anchor="middle" fill="#595959" stroke="#595959" stroke-width="0.2" letter-spacing="0.65">7/14</text>
<text x="688.83" y="418.00" font-size="12" text-anchor="middle" fill="#595959" stroke="#595959" stroke-width="0.2" letter-spacing="0.65">8/14</text>
<text x="722.53" y="418.00" font-size="12" text-anchor="middle" fill="#595959" stroke="#595959" stroke-width="0.2" letter-spacing="0.65">9/14</text>
<text x="754.83" y="418.00" font-size="12" text-anchor="middle" fill="#595959" stroke="#595959" stroke-width="0.2" letter-spacing="0.65">10/14</text>
<text x="788.73" y="418.00" font-size="12" text-anchor="middle" fill="#595959" stroke="#595959" stroke-width="0.2" letter-spacing="0.65">11/14</text>
<text x="820.73" y="418.00" font-size="12" text-anchor="middle" fill="#595959" stroke="#595959" stroke-width="0.2" letter-spacing="0.65">12/14</text>
<text x="854.73" y="418.00" font-size="12" text-anchor="middle" fill="#595959" stroke="#595959" stroke-width="0.2" letter-spacing="0.65">1/14</text>
<clipPath id="cp6"><rect x="655" y="260.5" width="237.5" height="146"/></clipPath><g clip-path="url(#cp6)">
<path d="M655.5 390.0L659.0 387.9L663.2 386.3L667.3 386.3L669.4 388.6L671.5 391.8L674.3 392.4L677.0 390.7L679.8 386.5L682.6 378.9L684.6 368.5L686.7 360.2L688.8 351.9L690.9 340.8L692.3 332.5L693.7 324.9L695.7 320.0L697.8 316.6L700.6 315.2L702.7 313.1L704.7 316.6L706.1 320.0L707.5 326.3L708.9 335.3L710.3 340.1L712.4 345.0L714.4 351.9L716.5 356.7L718.6 363.0L720.7 368.5L723.4 369.9L725.5 374.1L728.3 376.8L730.4 381.0L733.1 384.5L735.9 385.8L738.7 387.2L742.2 386.3L745.6 385.8L750.0 378.5L754.2 376.8L757.6 373.4L761.1 371.3L765.2 371.0L769.4 370.6L773.6 369.9L776.3 366.4L779.1 363.3L783.3 363.7L786.7 365.7L790.2 367.1L794.3 366.0L798.5 364.4L802.0 360.9L804.7 357.4L807.5 358.1L810.3 358.8L813.1 352.6L816.5 352.2L821.4 352.2L824.1 349.1L825.9 344.3L829.0 346.1L832.5 346.6L835.2 350.5L838.0 354.0L840.1 355.4L841.5 357.4L843.5 359.1L847.7 356.0L849.8 351.6L852.5 348.4L854.6 343.6L856.7 336.6L858.8 328.3L858.6 328.9L860.3 325.6L862.6 324.9L865.6 320.9L865.9 314.9L866.9 308.9L868.9 303.0L870.3 298.3L871.3 296.3" fill="none" stroke="#4472C4" stroke-width="3.2" stroke-linejoin="round" stroke-linecap="round"/>
<path d="M655.5 396.2L666.6 396.2L667.7 391.4L677.7 391.4L679.1 386.5L680.8 385.8L681.9 371.3L686.3 371.0L687.7 359.5L688.8 351.6L690.2 356.0L691.3 356.3L692.7 340.1L694.1 340.1L695.2 351.2L696.4 339.4L697.4 331.8L698.5 325.6L699.6 334.6L701.0 338.3L702.9 340.1L704.3 351.9L705.4 366.4L706.5 376.1L708.2 369.2L709.6 366.4L710.7 371.3L712.1 351.9L713.5 335.3L714.9 345.0L716.5 346.3L717.6 330.4L718.6 331.1L719.7 349.1L720.7 363.0L721.8 376.1L722.9 371.3L724.1 390.7L729.0 390.7L730.7 395.5L732.0 390.7L745.6 390.7L746.7 386.5L747.8 390.7L749.1 386.5L750.0 385.1L751.7 376.8L753.5 368.5L755.5 361.9L756.7 361.6L758.0 368.5L759.7 366.4L761.1 374.1L763.2 379.6L765.2 382.1L766.6 385.8L768.3 382.4L769.7 381.0L770.5 366.9L774.9 366.4L776.6 374.1L777.7 390.7L778.8 386.5L785.3 386.5L786.7 391.8L788.1 391.4L789.1 386.5L796.4 386.5L797.8 392.1L798.8 395.5L800.6 395.1L801.6 391.0L805.4 390.7L806.5 377.5L808.2 376.1L809.9 370.6L811.3 369.9L812.4 366.0L813.5 366.9L814.4 376.8L815.4 383.8L816.5 391.4L817.6 381.3L818.6 386.5L826.2 386.3L827.3 381.7L830.1 381.3L831.5 376.8L832.6 385.8L838.7 386.3L839.8 391.4L840.8 381.7L847.7 381.7L848.7 391.4L850.5 391.4L851.9 383.8L852.8 381.7L856.0 381.3L857.4 376.8L859.5 376.1L861.6 371.3L863.4 369.9L864.5 361.3L865.7 371.3L867.1 376.8L868.5 381.0L869.5 376.1L870.6 375.4L871.7 387.6" fill="none" stroke="#C00000" stroke-width="3.2" stroke-linejoin="round" stroke-linecap="round"/>
</g>
<g fill="#595959"><text x="672.92" y="267.80" font-size="15.6">沖縄_鹿児島</text><text x="775.21" y="267.80" font-size="15.6">遅れ</text><text x="806.41" y="267.80" font-size="14.50">9</text><text x="814.48" y="267.80" font-size="15.6">日</text></g>
<path d="M671.55 440.45H693.35" stroke="#4472C4" stroke-width="3.1" stroke-linecap="round"/>
<g fill="#595959"><text x="695.50" y="444.00" font-size="13.33">ずれ調整活性者</text></g>
<path d="M671.55 463.50H693.35" stroke="#C00000" stroke-width="3.1" stroke-linecap="round"/>
<g fill="#595959"><text x="695.30" y="467.00" font-size="13.33">死者数_週間の移動平均</text></g>
<path d="M122.00 530.50H388.50" stroke="#D9D9D9" stroke-width="1"/>
<path d="M122.00 562.50H388.50" stroke="#D9D9D9" stroke-width="1"/>
<path d="M122.00 594.50H388.50" stroke="#D9D9D9" stroke-width="1"/>
<path d="M122.00 626.50H388.50" stroke="#D9D9D9" stroke-width="1"/>
<path d="M122.00 658.50H388.50" stroke="#D9D9D9" stroke-width="1"/>
<path d="M122.50 658.00V663.00" stroke="#D9D9D9" stroke-width="1"/>
<path d="M163.50 658.00V663.00" stroke="#D9D9D9" stroke-width="1"/>
<path d="M204.50 658.00V663.00" stroke="#D9D9D9" stroke-width="1"/>
<path d="M243.50 658.00V663.00" stroke="#D9D9D9" stroke-width="1"/>
<path d="M284.50 658.00V663.00" stroke="#D9D9D9" stroke-width="1"/>
<path d="M324.50 658.00V663.00" stroke="#D9D9D9" stroke-width="1"/>
<path d="M365.50 658.00V663.00" stroke="#D9D9D9" stroke-width="1"/>
<text x="107.00" y="534.62" font-size="11.5" text-anchor="end" fill="#595959" stroke="#595959" stroke-width="0.2" letter-spacing="0.25">40,000</text>
<text x="107.00" y="566.62" font-size="11.5" text-anchor="end" fill="#595959" stroke="#595959" stroke-width="0.2" letter-spacing="0.25">30,000</text>
<text x="107.00" y="598.62" font-size="11.5" text-anchor="end" fill="#595959" stroke="#595959" stroke-width="0.2" letter-spacing="0.25">20,000</text>
<text x="107.00" y="630.62" font-size="11.5" text-anchor="end" fill="#595959" stroke="#595959" stroke-width="0.2" letter-spacing="0.25">10,000</text>
<text x="107.00" y="662.62" font-size="11.5" text-anchor="end" fill="#595959" stroke="#595959" stroke-width="0.2" letter-spacing="0.25">0</text>
<text x="400.50" y="534.62" font-size="11.5" text-anchor="start" fill="#C00000" stroke="#C00000" stroke-width="0.2" letter-spacing="0.25">50</text>
<text x="400.50" y="560.22" font-size="11.5" text-anchor="start" fill="#C00000" stroke="#C00000" stroke-width="0.2" letter-spacing="0.25">40</text>
<text x="400.50" y="585.82" font-size="11.5" text-anchor="start" fill="#C00000" stroke="#C00000" stroke-width="0.2" letter-spacing="0.25">30</text>
<text x="400.50" y="611.42" font-size="11.5" text-anchor="start" fill="#C00000" stroke="#C00000" stroke-width="0.2" letter-spacing="0.25">20</text>
<text x="400.50" y="637.02" font-size="11.5" text-anchor="start" fill="#C00000" stroke="#C00000" stroke-width="0.2" letter-spacing="0.25">10</text>
<text x="400.50" y="662.62" font-size="11.5" text-anchor="start" fill="#C00000" stroke="#C00000" stroke-width="0.2" letter-spacing="0.25">0</text>
<text x="122.92" y="680.80" font-size="12" text-anchor="middle" fill="#595959" stroke="#595959" stroke-width="0.2" letter-spacing="0.65">7/14</text>
<text x="163.62" y="680.80" font-size="12" text-anchor="middle" fill="#595959" stroke="#595959" stroke-width="0.2" letter-spacing="0.65">8/14</text>
<text x="204.52" y="680.80" font-size="12" text-anchor="middle" fill="#595959" stroke="#595959" stroke-width="0.2" letter-spacing="0.65">9/14</text>
<text x="243.82" y="680.80" font-size="12" text-anchor="middle" fill="#595959" stroke="#595959" stroke-width="0.2" letter-spacing="0.65">10/14</text>
<text x="284.72" y="680.80" font-size="12" text-anchor="middle" fill="#595959" stroke="#595959" stroke-width="0.2" letter-spacing="0.65">11/14</text>
<text x="324.52" y="680.80" font-size="12" text-anchor="middle" fill="#595959" stroke="#595959" stroke-width="0.2" letter-spacing="0.65">12/14</text>
<text x="365.52" y="680.80" font-size="12" text-anchor="middle" fill="#595959" stroke="#595959" stroke-width="0.2" letter-spacing="0.65">1/14</text>
<clipPath id="cp7"><rect x="122" y="500.5" width="286.5" height="168"/></clipPath><g clip-path="url(#cp7)">
<path d="M122.6 655.2L127.7 654.4L133.2 652.7L138.8 650.2L143.6 648.5L147.8 645.1L152.0 641.9L155.4 638.8L159.6 635.4L163.7 631.9L167.2 627.7L170.4 623.9L173.4 622.9L176.9 621.1L180.4 619.2L183.1 620.5L187.3 623.6L191.4 626.6L195.6 629.8L199.8 633.0L203.9 635.4L208.1 637.4L212.2 638.8L216.4 640.9L220.5 642.7L224.7 643.3L228.9 643.7L234.4 644.1L238.0 644.1L242.2 645.5L249.1 645.1L256.0 644.7L262.9 644.4L268.5 643.7L274.0 642.3L279.6 641.2L285.1 639.5L290.7 637.4L294.8 634.7L299.0 630.5L302.4 626.4L305.9 620.8L309.4 617.4L312.8 614.6L316.3 609.7L319.8 605.6L323.9 604.5L327.4 603.9L330.2 601.4L333.6 602.1L337.8 602.1L341.2 601.4L344.7 602.1L348.9 602.5L353.0 601.1L357.2 600.0L360.6 598.0L362.1 595.4L366.5 592.1L369.3 586.5L372.1 581.5L375.4 578.2L377.6 572.1L379.3 566.6L380.4 558.8L381.5 552.2L382.6 546.6L384.0 540.5L385.9 538.8L387.0 538.3" fill="none" stroke="#4472C4" stroke-width="3.2" stroke-linejoin="round" stroke-linecap="round"/>
<path d="M122.6 656.6L131.2 656.6L133.2 655.2L136.0 656.2L138.8 655.5L141.6 654.8L143.6 655.5L146.4 653.8L149.2 653.4L152.6 653.4L155.4 651.3L157.5 651.3L159.6 648.3L161.7 647.1L163.7 643.0L165.8 638.8L167.2 635.0L170.0 633.0L172.7 634.7L174.8 636.8L176.9 639.5L179.0 636.8L181.1 637.4L183.1 636.3L185.9 636.3L188.0 638.1L190.1 638.8L191.7 640.2L192.8 637.4L194.9 638.1L197.0 639.5L199.1 638.1L201.1 640.2L203.9 640.9L206.7 641.9L208.8 643.7L210.6 644.4L212.2 650.6L213.9 647.1L216.4 647.4L218.5 647.1L221.2 643.7L223.3 645.8L225.4 646.5L227.5 644.1L229.6 647.1L231.6 648.5L234.4 649.9L237.2 650.6L238.0 650.6L240.8 651.3L243.5 648.8L245.6 647.1L248.4 647.8L250.7 646.5L253.2 649.2L255.3 649.2L257.4 647.1L259.5 648.3L261.6 649.2L263.6 646.9L265.7 646.0L267.8 645.8L269.9 645.1L272.0 649.9L274.7 650.6L276.8 646.9L278.9 645.8L281.7 644.7L283.7 644.1L285.8 644.1L288.2 642.3L290.0 637.4L292.0 637.2L294.1 636.1L296.2 631.9L297.9 625.7L300.4 623.6L302.4 618.0L304.2 613.2L306.6 611.1L308.0 607.7L310.1 604.2L312.1 599.8L313.9 597.3L314.9 594.5L316.3 596.2L317.7 599.3L319.5 602.1L321.1 598.6L323.2 595.9L325.6 593.8L327.4 586.9L329.2 585.5L330.8 589.6L332.9 591.0L335.0 587.6L337.1 587.3L339.6 586.5L341.2 588.9L343.0 593.8L344.7 598.0L346.8 604.5L348.2 601.4L350.3 595.9L352.3 591.7L353.7 584.8L353.8 584.3L355.1 577.6L356.5 577.4L358.2 578.8L359.6 581.5L361.0 578.8L362.1 578.2L363.7 581.0L365.4 583.2L366.7 584.5L367.8 579.9L368.5 574.3L370.1 574.3L371.2 569.7L372.6 568.8L374.1 567.7L375.4 563.8L376.5 561.0L377.6 562.7L378.5 565.5L379.3 557.7L380.4 556.0L382.0 554.9L383.4 553.3L384.5 546.6L385.9 541.6L387.0 537.7" fill="none" stroke="#C00000" stroke-width="3.2" stroke-linejoin="round" stroke-linecap="round"/>
</g>
<g fill="#595959"><text x="207.77" y="507.00" font-size="14.50">6</text><text x="215.83" y="507.00" font-size="15.6">地域合成</text></g>
<path d="M132.35 701.40H153.35" stroke="#4472C4" stroke-width="3.1" stroke-linecap="round"/>
<g fill="#595959"><text x="156.30" y="705.60" font-size="13.33">感染活性者数</text></g>
<path d="M253.65 701.40H275.15" stroke="#C00000" stroke-width="3.1" stroke-linecap="round"/>
<g fill="#595959"><text x="277.50" y="705.60" font-size="13.33">週平均死亡者</text></g>
<path d="M494.00 530.50H745.50" stroke="#D9D9D9" stroke-width="1"/>
<path d="M494.00 556.50H745.50" stroke="#D9D9D9" stroke-width="1"/>
<path d="M494.00 582.50H745.50" stroke="#D9D9D9" stroke-width="1"/>
<path d="M494.00 607.50H745.50" stroke="#D9D9D9" stroke-width="1"/>
<path d="M494.00 633.50H745.50" stroke="#D9D9D9" stroke-width="1"/>
<path d="M494.00 658.50H745.50" stroke="#D9D9D9" stroke-width="1"/>
<path d="M494.50 658.00V663.00" stroke="#D9D9D9" stroke-width="1"/>
<path d="M533.50 658.00V663.00" stroke="#D9D9D9" stroke-width="1"/>
<path d="M572.50 658.00V663.00" stroke="#D9D9D9" stroke-width="1"/>
<path d="M609.50 658.00V663.00" stroke="#D9D9D9" stroke-width="1"/>
<path d="M648.50 658.00V663.00" stroke="#D9D9D9" stroke-width="1"/>
<path d="M685.50 658.00V663.00" stroke="#D9D9D9" stroke-width="1"/>
<path d="M724.50 658.00V663.00" stroke="#D9D9D9" stroke-width="1"/>
<text x="478.80" y="534.62" font-size="11.5" text-anchor="end" fill="#595959" stroke="#595959" stroke-width="0.2" letter-spacing="0.25">100,000</text>
<text x="478.80" y="560.62" font-size="11.5" text-anchor="end" fill="#595959" stroke="#595959" stroke-width="0.2" letter-spacing="0.25">80,000</text>
<text x="478.80" y="586.62" font-size="11.5" text-anchor="end" fill="#595959" stroke="#595959" stroke-width="0.2" letter-spacing="0.25">60,000</text>
<text x="478.80" y="611.62" font-size="11.5" text-anchor="end" fill="#595959" stroke="#595959" stroke-width="0.2" letter-spacing="0.25">40,000</text>
<text x="478.80" y="637.62" font-size="11.5" text-anchor="end" fill="#595959" stroke="#595959" stroke-width="0.2" letter-spacing="0.25">20,000</text>
<text x="478.80" y="662.62" font-size="11.5" text-anchor="end" fill="#595959" stroke="#595959" stroke-width="0.2" letter-spacing="0.25">0</text>
<text x="758.30" y="534.62" font-size="11.5" text-anchor="start" fill="#C00000" stroke="#C00000" stroke-width="0.2" letter-spacing="0.25">120</text>
<text x="758.30" y="555.95" font-size="11.5" text-anchor="start" fill="#C00000" stroke="#C00000" stroke-width="0.2" letter-spacing="0.25">100</text>
<text x="758.30" y="577.28" font-size="11.5" text-anchor="start" fill="#C00000" stroke="#C00000" stroke-width="0.2" letter-spacing="0.25">80</text>
<text x="758.30" y="598.62" font-size="11.5" text-anchor="start" fill="#C00000" stroke="#C00000" stroke-width="0.2" letter-spacing="0.25">60</text>
<text x="758.30" y="619.95" font-size="11.5" text-anchor="start" fill="#C00000" stroke="#C00000" stroke-width="0.2" letter-spacing="0.25">40</text>
<text x="758.30" y="641.28" font-size="11.5" text-anchor="start" fill="#C00000" stroke="#C00000" stroke-width="0.2" letter-spacing="0.25">20</text>
<text x="758.30" y="662.62" font-size="11.5" text-anchor="start" fill="#C00000" stroke="#C00000" stroke-width="0.2" letter-spacing="0.25">0</text>
<text x="494.93" y="680.80" font-size="12" text-anchor="middle" fill="#595959" stroke="#595959" stroke-width="0.2" letter-spacing="0.65">7/14</text>
<text x="533.73" y="680.80" font-size="12" text-anchor="middle" fill="#595959" stroke="#595959" stroke-width="0.2" letter-spacing="0.65">8/14</text>
<text x="572.83" y="680.80" font-size="12" text-anchor="middle" fill="#595959" stroke="#595959" stroke-width="0.2" letter-spacing="0.65">9/14</text>
<text x="609.83" y="680.80" font-size="12" text-anchor="middle" fill="#595959" stroke="#595959" stroke-width="0.2" letter-spacing="0.65">10/14</text>
<text x="648.83" y="680.80" font-size="12" text-anchor="middle" fill="#595959" stroke="#595959" stroke-width="0.2" letter-spacing="0.65">11/14</text>
<text x="685.83" y="680.80" font-size="12" text-anchor="middle" fill="#595959" stroke="#595959" stroke-width="0.2" letter-spacing="0.65">12/14</text>
<text x="724.93" y="680.80" font-size="12" text-anchor="middle" fill="#595959" stroke="#595959" stroke-width="0.2" letter-spacing="0.65">1/14</text>
<clipPath id="cp8"><rect x="494" y="500.5" width="271.5" height="168"/></clipPath><g clip-path="url(#cp8)">
<path d="M494.6 656.2L499.7 654.1L505.2 652.7L510.8 650.6L514.9 649.2L519.1 647.1L523.3 645.1L526.7 642.3L530.9 639.5L534.3 637.7L537.8 635.1L541.3 635.8L545.4 636.3L549.6 638.1L553.7 639.9L557.9 641.3L562.1 642.7L566.2 644.1L570.4 645.8L574.5 646.9L578.7 648.3L582.8 649.6L587.0 649.6L592.5 649.6L596.7 650.6L602.3 650.6L607.8 650.6L610.0 649.6L618.3 649.2L626.6 648.8L633.6 648.3L639.1 647.4L644.6 645.8L650.2 644.1L654.3 642.3L657.8 638.1L661.3 636.1L664.0 631.9L667.5 627.1L671.0 625.0L674.4 622.9L677.9 620.8L682.1 620.1L686.2 619.4L690.4 617.4L694.5 616.0L698.7 614.2L702.8 612.2L707.0 610.4L711.2 607.0L715.3 604.2L718.8 601.1L721.6 600.3L723.6 596.6L725.0 590.3L726.0 584.3L727.7 575.4L729.3 571.6L732.1 566.6L734.9 561.0L736.5 556.6L737.6 551.0L738.8 547.7L740.4 546.6L742.1 546.8L743.4 548.8L744.9 552.7" fill="none" stroke="#4472C4" stroke-width="3.2" stroke-linejoin="round" stroke-linecap="round"/>
<path d="M494.6 658.0L501.1 657.5L506.6 657.1L510.8 656.2L514.9 655.7L519.1 654.8L523.3 653.4L526.7 653.1L530.2 652.0L533.7 649.2L536.4 646.5L539.9 645.1L543.4 646.0L546.1 645.8L549.6 644.4L553.7 644.1L556.5 644.7L559.3 646.0L563.4 646.5L565.5 646.0L567.6 647.1L571.8 648.3L574.5 648.3L578.0 649.6L580.8 652.0L584.2 652.4L587.0 651.3L592.5 651.0L596.7 652.4L600.2 654.4L603.6 654.4L607.1 654.1L609.2 652.4L610.0 652.0L614.9 652.0L616.2 651.0L617.6 652.4L620.4 652.0L622.5 650.2L625.2 651.3L627.3 650.6L630.1 649.2L633.6 649.2L636.3 651.3L638.4 651.3L641.2 649.6L644.0 647.1L646.0 648.3L650.2 647.8L652.3 645.8L654.1 644.1L656.4 645.1L659.2 643.0L662.0 639.5L664.7 635.4L666.8 631.2L668.9 628.9L671.7 624.3L673.1 621.1L675.8 619.4L678.6 621.1L681.4 620.1L683.4 619.4L685.9 617.4L687.6 614.6L690.4 610.4L693.1 611.1L695.2 608.3L697.3 604.9L700.1 604.2L702.2 601.4L704.2 605.3L706.3 607.0L708.4 604.2L711.9 600.7L713.2 594.5L714.2 590.1L716.7 592.4L718.4 593.8L719.8 589.6L722.9 589.4L723.8 589.3L726.0 587.1L727.1 582.1L728.8 579.9L730.4 575.4L732.1 569.9L733.8 565.5L736.0 566.0L738.2 564.9L739.9 565.5L741.5 563.8L742.6 561.6L743.4 555.5L744.3 552.7L745.2 554.4" fill="none" stroke="#C00000" stroke-width="3.2" stroke-linejoin="round" stroke-linecap="round"/>
</g>
<g fill="#595959"><text x="556.67" y="507.00" font-size="15.6">全国</text><text x="603.47" y="507.00" font-size="15.6">遅れ</text><text x="634.67" y="507.00" font-size="14.50">8</text><text x="642.73" y="507.00" font-size="15.6">日</text></g>
<path d="M489.65 702.40H511.65" stroke="#4472C4" stroke-width="3.1" stroke-linecap="round"/>
<g fill="#595959"><text x="514.20" y="707.10" font-size="13.33">ずれ調整活性者</text></g>
<path d="M626.55 702.40H647.95" stroke="#C00000" stroke-width="3.1" stroke-linecap="round"/>
<g fill="#595959"><text x="650.50" y="707.10" font-size="13.33">週平均死亡者</text></g>
</svg>
</body></html>
